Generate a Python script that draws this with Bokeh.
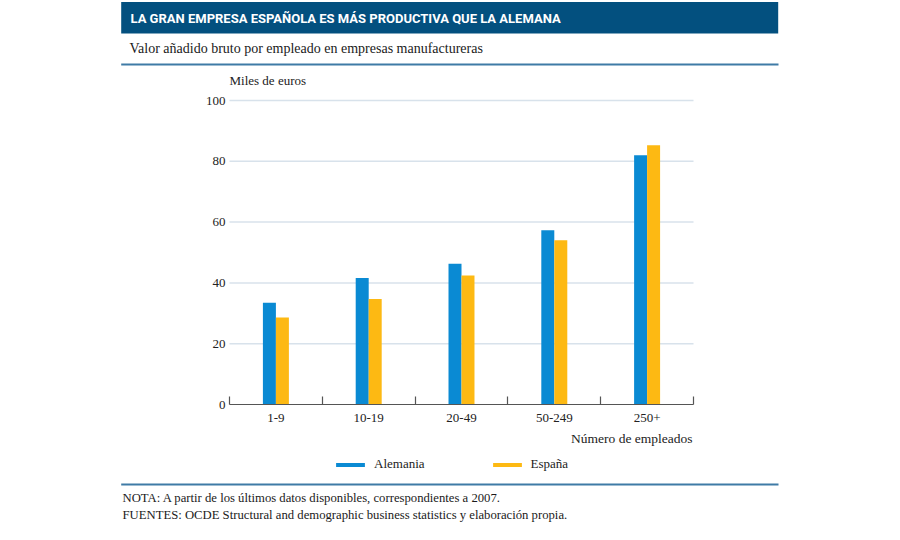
from bokeh.plotting import figure
from bokeh.models import (ColumnDataSource, Range1d, LinearAxis, FixedTicker,
                          Label, BoxAnnotation, Legend, LegendItem)
from bokeh.transform import dodge
from bokeh.embed import file_html
from bokeh.resources import INLINE

# ---- data ----
categories = ["1-9", "10-19", "20-49", "50-249", "250+"]
alemania = [33.5, 41.6, 46.3, 57.3, 82.0]
espana = [28.6, 34.7, 42.4, 54.0, 85.3]
y_ticks = [0, 20, 40, 60, 80, 100]
series_names = ["Alemania", "España"]

title_text = "LA GRAN EMPRESA ESPAÑOLA ES MÁS PRODUCTIVA QUE LA ALEMANA"
subtitle_text = "Valor añadido bruto por empleado en empresas manufactureras"
y_label_text = "Miles de euros"
x_label_text = "Número de empleados"
note_lines = ["NOTA: A partir de los últimos datos disponibles, correspondientes a 2007.",
              "FUENTES: OCDE Structural and demographic business statistics y elaboración propia."]

BLUE = "#0a8ad3"
YELLOW = "#fdb913"
HEADER = "#03507f"
RULE = "#3f7ba6"
SERIF = "Liberation Serif"

W, H = 898, 538
X0, Y0 = 229.0, 404.0        # pixel position of data origin
PX_X, PX_Y = 92.8, 3.04      # pixels per category / per unit

n = len(categories)
centers = [i + 0.5 for i in range(n)]
bounds = [float(i) for i in range(n + 1)]

source = ColumnDataSource(dict(cat=categories, xc=centers, alemania=alemania, espana=espana))

p = figure(width=W, height=H, output_backend="svg", toolbar_location=None,
           x_range=Range1d(-X0 / PX_X, (W - X0) / PX_X),
           y_range=Range1d((Y0 - H) / PX_Y, Y0 / PX_Y),
           x_axis_location=None, y_axis_location=None,
           min_border=0, min_border_left=0, min_border_right=0,
           min_border_top=0, min_border_bottom=0)
p.outline_line_color = None
p.background_fill_color = "white"
p.border_fill_color = "white"
p.xgrid.visible = False
p.ygrid.visible = False

# horizontal grid lines across the category span
p.segment(x0=0, x1=n, y0=y_ticks[1:], y1=y_ticks[1:], line_color="#d8e2eb", line_width=1.5)

r1 = p.vbar(x=dodge("xc", -0.07), top="alemania", width=0.14,
            source=source, fill_color=BLUE, line_color=None)
r2 = p.vbar(x=dodge("xc", 0.07), top="espana", width=0.14,
            source=source, fill_color=YELLOW, line_color=None)

# y axis (labels only)
yaxis = LinearAxis(ticker=FixedTicker(ticks=y_ticks), fixed_location=0, bounds=(0, 100))
yaxis.axis_line_color = None
yaxis.major_tick_line_color = None
yaxis.minor_tick_line_color = None
yaxis.major_tick_in = 0
yaxis.major_tick_out = 0
yaxis.major_label_standoff = 4
yaxis.major_label_text_font = SERIF
yaxis.major_label_text_font_size = "13px"
yaxis.major_label_text_color = "#222222"
p.add_layout(yaxis, "left")

# x axis: labels at category centres, ticks at category boundaries
xaxis = LinearAxis(ticker=FixedTicker(ticks=centers, minor_ticks=bounds),
                   major_label_overrides={c: name for c, name in zip(centers, categories)},
                   fixed_location=0, bounds=(0, n))
xaxis.axis_line_color = "#555555"
xaxis.axis_line_width = 1.2
xaxis.major_tick_line_color = None
xaxis.major_tick_in = 0
xaxis.major_tick_out = 0
xaxis.minor_tick_line_color = "#555555"
xaxis.minor_tick_line_width = 1.2
xaxis.minor_tick_in = 8
xaxis.minor_tick_out = 0
xaxis.major_label_standoff = 9
xaxis.major_label_text_font = SERIF
xaxis.major_label_text_font_size = "13px"
xaxis.major_label_text_color = "#222222"
p.add_layout(xaxis, "below")


def sy(y):
    """page pixel (from top) -> screen units (from bottom)"""
    return H - y


def box(left, right, top, bottom, color):
    return BoxAnnotation(left=left, right=right, top=sy(top), bottom=sy(bottom),
                         left_units="screen", right_units="screen",
                         top_units="screen", bottom_units="screen",
                         fill_color=color, fill_alpha=1.0, line_color=None, level="underlay")


# header bar and rules
p.add_layout(box(120.7, 777.7, 1.5, 33, HEADER))
p.add_layout(box(120.7, 778, 63, 65, RULE))
p.add_layout(box(120.7, 778, 483, 485, RULE))

p.add_layout(Label(x=130, y=sy(18), x_units="screen", y_units="screen",
                   text=title_text, text_color="white", text_font="Roboto",
                   text_font_style="bold", text_font_size="13px", text_baseline="middle"))
p.add_layout(Label(x=129, y=sy(48), x_units="screen", y_units="screen",
                   text=subtitle_text, text_color="#1a1a1a", text_font=SERIF,
                   text_font_size="14px", text_baseline="middle"))

p.add_layout(Label(x=229, y=sy(80), x_units="screen", y_units="screen",
                   text=y_label_text, text_color="#222222", text_font=SERIF,
                   text_font_size="13px", text_baseline="middle"))
p.add_layout(Label(x=692, y=sy(438), x_units="screen", y_units="screen",
                   text=x_label_text, text_color="#222222", text_font=SERIF,
                   text_font_size="13.5px", text_baseline="middle", text_align="right"))

for i, line in enumerate(note_lines):
    p.add_layout(Label(x=122, y=sy(497 + 17 * i), x_units="screen", y_units="screen",
                       text=line, text_color="#1a1a1a", text_font=SERIF,
                       text_font_size="12.7px", text_baseline="middle"))

legend = Legend(items=[LegendItem(label=series_names[0], renderers=[r1]),
                       LegendItem(label=series_names[1], renderers=[r2])],
                orientation="horizontal", location=(332, sy(472)),
                padding=0, margin=0, spacing=64, glyph_width=36, glyph_height=5,
                label_height=5, label_standoff=6, border_line_color=None,
                background_fill_alpha=0, label_text_font=SERIF,
                label_text_font_size="13px", label_text_color="#222222")
p.add_layout(legend, "center")

open("out.html", "w").write(file_html(p, INLINE))
